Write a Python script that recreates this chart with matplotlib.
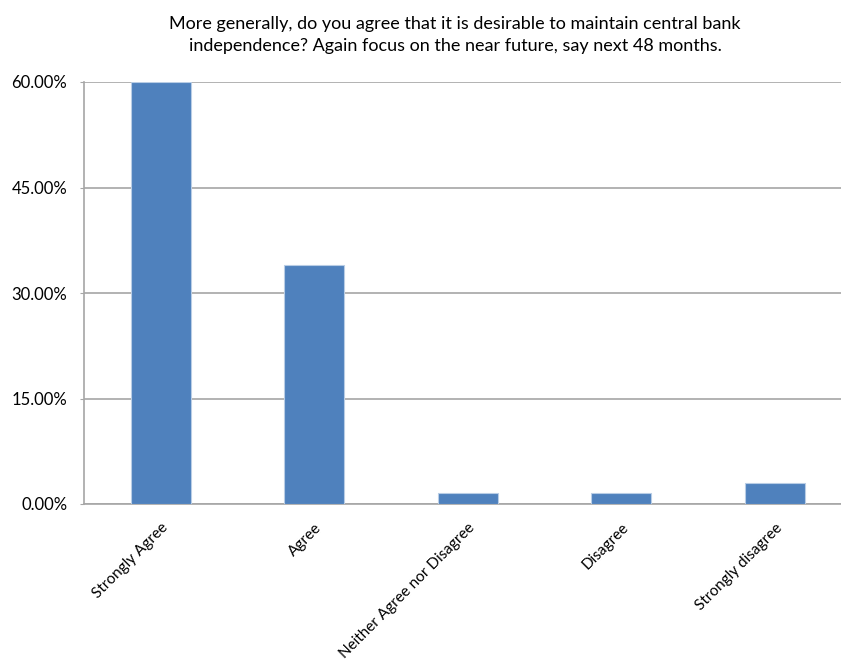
import matplotlib.pyplot as plt
from matplotlib.ticker import FuncFormatter

categories = ['Strongly Agree', 'Agree', 'Neither Agree nor Disagree',
              'Disagree', 'Strongly disagree']
shares = [60.0, 34.0, 1.5, 1.5, 3.0]
yticks = [0, 15, 30, 45, 60]
title = ('More generally, do you agree that it is desirable to maintain central bank\n'
         'independence? Again focus on the near future, say next 48 months.')

plt.rcParams['font.family'] = ['Lato', 'DejaVu Sans']

fig = plt.figure(figsize=(8.41, 6.67), dpi=100)
# plot area runs a little past the right edge of the canvas
ax = fig.add_axes([84 / 841, 1 - 504 / 667, (851.5 - 84) / 841, (504 - 82) / 667])

x = range(len(categories))
ax.bar(x, shares, width=0.39, color='#4f81bd', edgecolor='#b9cde5', linewidth=0.8, zorder=3)

ax.set_xlim(-0.5, len(categories) - 0.5)
ax.set_ylim(0, 60)
ax.set_yticks(yticks)
ax.yaxis.set_major_formatter(FuncFormatter(lambda v, p: '%.2f%%' % v))
ax.grid(axis='y', color='#a6a6a6', linewidth=1.2, zorder=0)
ax.set_xticks(list(x))
ax.set_xticklabels(categories, rotation=45, ha='right', rotation_mode='anchor', fontsize=11)
ax.tick_params(axis='x', length=0, pad=12)
ax.tick_params(axis='y', length=3, color='#a6a6a6', labelsize=12, pad=9)

for side in ['top', 'right']:
    ax.spines[side].set_visible(False)
for side in ['left', 'bottom']:
    ax.spines[side].set_color('#a6a6a6')
    ax.spines[side].set_linewidth(1.2)

fig.text(455 / 841, 1 - 35 / 667, title, ha='center', va='center', fontsize=13,
         linespacing=1.45)

fig.savefig('out.png', dpi=100)
